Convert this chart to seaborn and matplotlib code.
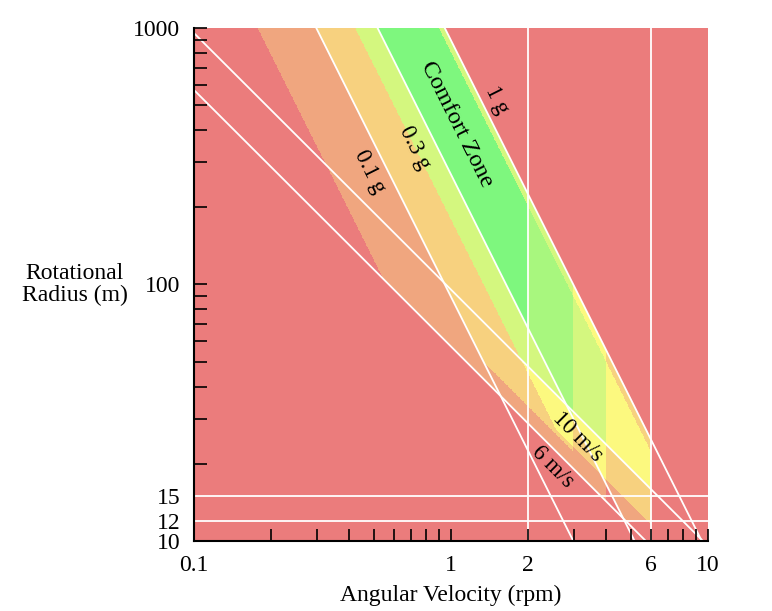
import numpy as np
import pandas as pd
import matplotlib
matplotlib.use("Agg")
import matplotlib.pyplot as plt
from matplotlib.colors import ListedColormap
from matplotlib.ticker import LogLocator, NullFormatter
import seaborn as sns

# ── Comfort criteria of each source ───────────
SOURCES  = ["Hill & Schnitzer", "Gilruth", "Gilruth (ideal)",
            "Gordon & Gervais", "Stone", "Cramer"]
G_MIN    = [0.035, 0.3, 0.3, 0.2, 0.2, 0.1]     # g
G_MAX    = [1.0, 0.9, 0.9, 1.0, 1.0, 1.0]       # g
RPM_MAX  = [4, 6, 2, 6, 6, 3]                   # rpm
V_MIN    = [6, 0, 0, 7.3, 10, 7]                # m/s
R_MIN    = [0, 12, 15, 0, 0, 0]                 # m

# reference lines drawn in white
LINE_G   = [0.1, 0.3, 1.0]
LINE_V   = [6, 10]
LINE_R   = [12, 15]
LINE_RPM = [2, 6]

# number of sources satisfied -> colour
ZONE_COLORS = ["#EB7C7C", "#F0A67F", "#F7D17F", "#FCF97F",
               "#D4F77F", "#A8F77E", "#7EF77E"]

XTICKS = [0.1, 1, 2, 6, 10]
YTICKS = [10, 12, 15, 100, 1000]

G0 = 9.81
RPM2RAD = 2 * np.pi / 60

sns.set_style("ticks")
plt.rcParams["font.family"] = ["Liberation Serif", "DejaVu Serif"]
plt.rcParams.update({
    "text.color": "black",
    "axes.labelcolor": "black",
    "xtick.labelcolor": "black",
    "ytick.labelcolor": "black",
})

fig = plt.figure(figsize=(7.72, 6.11), dpi=100)
ax = fig.add_axes([0.2513, 0.1146, 0.6658, 0.8396])
ax.set_xscale("log")
ax.set_yscale("log")
ax.set_axisbelow(False)

# ── zone map ──────────────────────────────────────────────────────────────────
rpm = np.logspace(-1, 1, 900)
rad = np.logspace(1, 3, 900)
W, R = np.meshgrid(rpm, rad)
omega = W * RPM2RAD
accel = omega ** 2 * R / G0
speed = omega * R
count = np.zeros_like(W)
for gmin, gmax, wmax, vmin, rmin in zip(G_MIN, G_MAX, RPM_MAX, V_MIN, R_MIN):
    ok = (accel >= gmin) & (accel <= gmax) & (W <= wmax) & (speed >= vmin) & (R >= rmin)
    count += ok
ax.pcolormesh(W, R, count, cmap=ListedColormap(ZONE_COLORS),
              vmin=-0.5, vmax=6.5, shading="auto", rasterized=True)

# ── white guide lines ─────────────────────────────────────────────────────────
line_kw = dict(color="white", linewidth=1.3, legend=False, ax=ax)
for g in LINE_G:
    r_line = g * G0 / (rpm * RPM2RAD) ** 2
    sns.lineplot(x=rpm, y=r_line, **line_kw)
for v in LINE_V:
    r_line = v / (rpm * RPM2RAD)
    sns.lineplot(x=rpm, y=r_line, **line_kw)
for r in LINE_R:
    ax.axhline(r, color="white", linewidth=1.3)
for w in LINE_RPM:
    ax.axvline(w, color="white", linewidth=1.3)

# ── labels on the zones ───────────────────────────────────────────────────────
ang_g = -np.degrees(np.arctan(2.0))
txt = dict(ha="center", va="center", rotation_mode="anchor", color="black")
ax.text(1.055, 420, "Comfort Zone", fontsize=17.5, rotation=ang_g, **txt)
ax.text(1.50, 525, "1 g", fontsize=16.5, rotation=ang_g, **txt)
ax.text(0.72, 340, "0.3 g", fontsize=16.5, rotation=ang_g, **txt)
ax.text(0.48, 275, "0.1 g", fontsize=16.5, rotation=ang_g, **txt)
ax.text(3.12, 25.4, "10 m/s", fontsize=16.5, rotation=-45, **txt)
ax.text(2.49, 19.4, "6 m/s", fontsize=16.5, rotation=-45, **txt)

# ── axes ──────────────────────────────────────────────────────────────────────
ax.set_xlim(0.1, 10)
ax.set_ylim(10, 1000)
ax.set_xticks(XTICKS)
ax.set_xticklabels([f"{t:g}" for t in XTICKS])
ax.set_yticks(YTICKS)
ax.set_yticklabels([f"{t:g}" for t in YTICKS])
ax.xaxis.set_minor_locator(LogLocator(base=10, subs=np.arange(2, 10), numticks=20))
ax.yaxis.set_minor_locator(LogLocator(base=10, subs=np.arange(2, 10), numticks=20))
ax.xaxis.set_minor_formatter(NullFormatter())
ax.yaxis.set_minor_formatter(NullFormatter())
ax.tick_params(which="both", direction="in", length=9, width=1.2,
               color="black", labelsize=17, pad=10)
for tk in ax.yaxis.get_major_ticks()[1:3]:
    tk.tick1line.set_visible(False)

sns.despine(ax=ax)
for side in ["left", "bottom"]:
    ax.spines[side].set_linewidth(1.5)
    ax.spines[side].set_color("black")
    ax.spines[side].set_zorder(5)

ax.set_xlabel("Angular Velocity (rpm)", fontsize=17)
ax.xaxis.set_label_coords(0.5, -0.085)
ax.set_ylabel("Rotational\nRadius (m)", fontsize=17, rotation=0,
              ha="center", va="center", linespacing=1.1)
ax.yaxis.set_label_coords(-0.232, 0.5)

fig.savefig("out.png", dpi=100)
